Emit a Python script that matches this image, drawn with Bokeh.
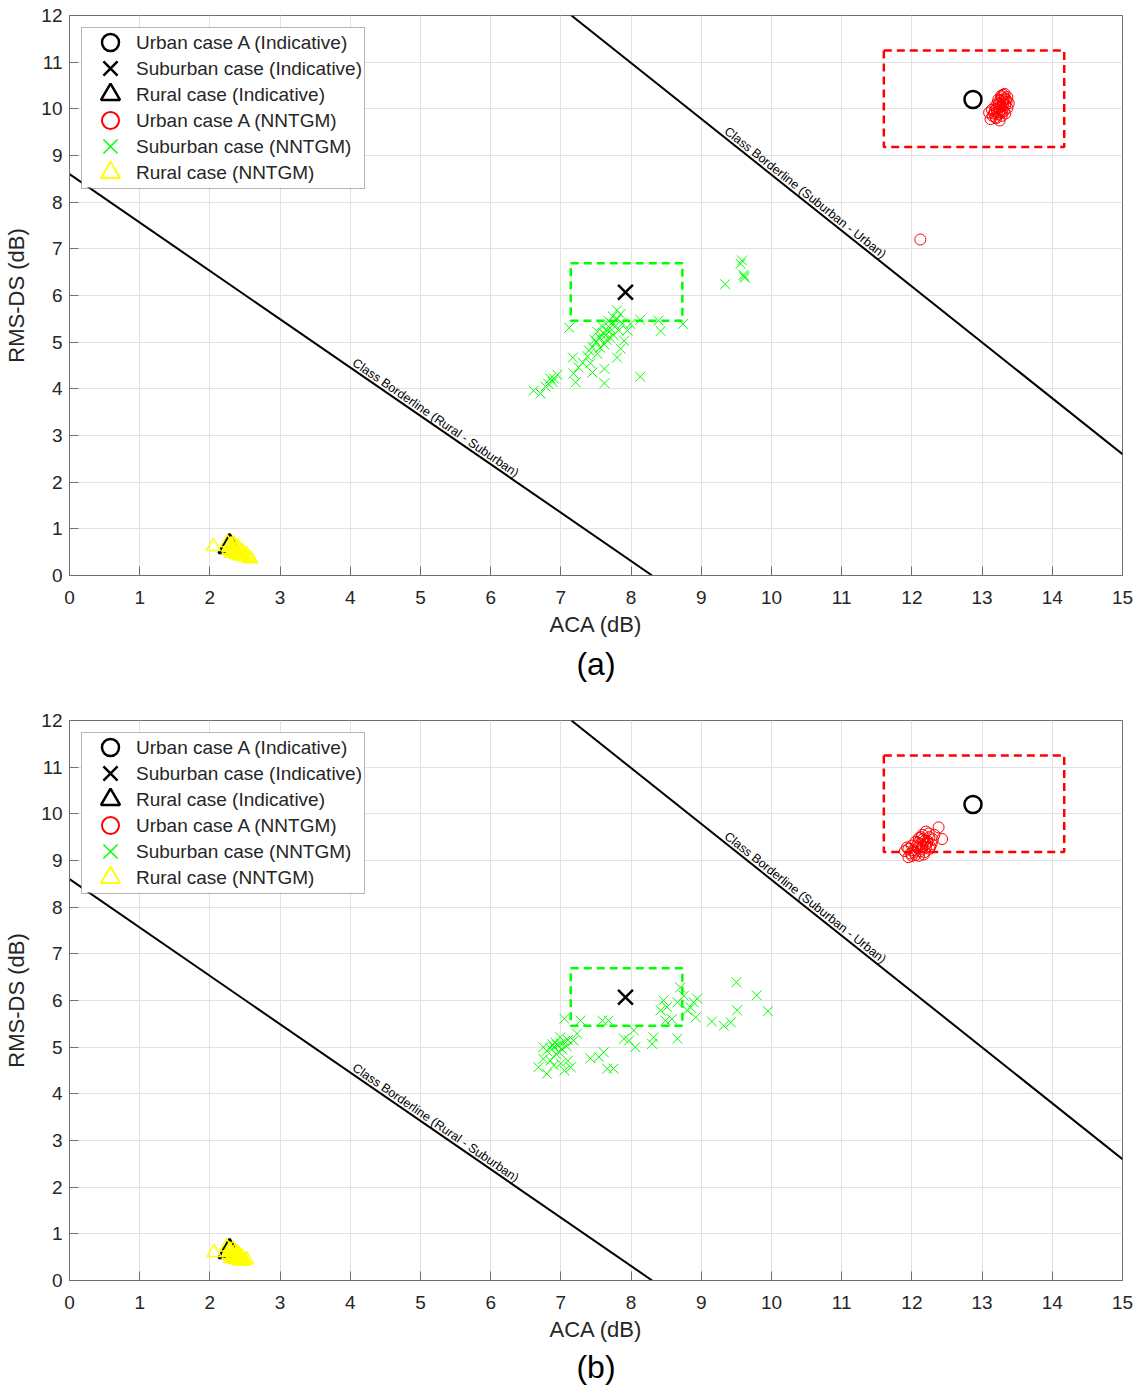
import math
from bokeh.plotting import figure
from bokeh.layouts import column
from bokeh.models import Range1d, FixedTicker, Legend, LegendItem, Title
from bokeh.core.properties import value
from bokeh.embed import file_html
from bokeh.resources import INLINE

FONT = "Liberation Sans"

# ---------------- data ----------------
x_ticks = list(range(0, 16))
y_ticks = list(range(0, 13))

ind_urban_x = [12.87]
ind_urban_y = [10.2]
ind_sub_x = [7.92]
ind_sub_y = [6.07]
ind_rural_x = [2.28]
ind_rural_y = [0.62]

border_rs_x = [0.0, 8.3]
border_rs_y = [8.6, 0.0]
border_su_x = [7.15, 15.0]
border_su_y = [12.0, 2.6]
border_rs_label = "Class Borderline (Rural - Suburban)"
border_su_label = "Class Borderline (Suburban - Urban)"

urban_box = [11.6, 14.17, 9.18, 11.25]   # left, right, bottom, top
sub_box = [7.14, 8.73, 5.46, 6.69]

legend_labels = ["Urban case A (Indicative)", "Suburban case (Indicative)",
                 "Rural case (Indicative)", "Urban case A (NNTGM)",
                 "Suburban case (NNTGM)", "Rural case (NNTGM)"]

# panel (a)
urban_a_x = [13.28, 13.30, 13.32, 13.26, 13.35, 13.22, 13.30, 13.27, 13.33, 13.24,
             13.20, 13.29, 13.36, 13.18, 13.25, 13.31, 13.22, 13.15, 13.28, 13.20,
             13.12, 13.25, 13.34, 13.38, 13.30, 13.23, 13.27, 13.32, 13.19, 13.26,
             13.17, 13.10, 13.21, 13.29, 13.36, 13.24, 13.14, 13.33, 13.28, 13.19, 12.12]
urban_a_y = [10.25, 10.30, 10.22, 10.18, 10.15, 10.12, 10.10, 10.05, 10.08, 10.02,
             10.00, 9.98, 10.02, 9.95, 9.92, 9.95, 9.88, 9.85, 9.85, 9.80,
             9.78, 9.75, 10.20, 10.12, 10.18, 10.20, 10.28, 10.32, 10.06, 9.97,
             9.90, 9.92, 9.93, 10.14, 10.25, 10.10, 9.98, 9.90, 9.92, 9.82, 7.20]

sub_a_x = [9.61, 9.58, 9.56, 9.62, 9.60, 9.34,
           8.13, 7.62, 7.62, 8.74, 8.42, 8.39, 8.13, 7.12,
           7.66, 7.60, 7.70, 7.55, 7.72, 7.65, 7.75, 7.58, 7.68, 7.80,
           7.78, 7.50, 7.45, 7.62, 7.70, 7.82, 7.85, 7.80, 7.74, 7.88,
           7.52, 7.64, 7.56, 7.48, 7.40, 7.52, 7.80, 7.85, 7.90, 7.95,
           7.99, 7.38, 7.31, 7.25, 7.17, 7.18, 7.21, 7.42, 7.45,
           6.85, 6.61, 6.71, 6.82, 6.90, 6.78, 6.88, 6.95]
sub_a_y = [6.41, 6.75, 6.68, 6.38, 6.44, 6.24,
           4.26, 4.12, 4.43, 5.39, 5.24, 5.46, 5.48, 5.31,
           5.25, 5.20, 5.30, 5.10, 5.40, 5.05, 5.15, 5.35, 5.45, 5.50,
           5.35, 5.00, 4.90, 4.95, 5.10, 5.25, 5.60, 5.68, 5.55, 5.40,
           5.22, 5.15, 4.88, 5.05, 4.82, 4.75, 4.67, 4.86, 5.03, 5.25,
           5.39, 4.70, 4.56, 4.46, 4.67, 4.33, 4.14, 4.55, 4.35,
           4.22, 3.96, 3.90, 4.11, 4.22, 4.05, 4.15, 4.30]

rural_a_x = [2.05, 2.25, 2.30, 2.28, 2.33, 2.38, 2.35, 2.40, 2.42, 2.45, 2.32, 2.27,
             2.37, 2.48, 2.50, 2.55, 2.43, 2.30, 2.36, 2.52, 2.40, 2.34, 2.46, 2.58, 2.29]
rural_a_y = [0.62, 0.70, 0.66, 0.60, 0.58, 0.55, 0.62, 0.50, 0.56, 0.48, 0.52, 0.55,
             0.45, 0.44, 0.40, 0.38, 0.42, 0.48, 0.50, 0.45, 0.60, 0.68, 0.52, 0.36, 0.63]

# panel (b)
urban_b_x = [12.38, 12.43, 12.20, 12.15, 12.25, 12.30, 12.10, 12.18, 12.22, 12.05,
             12.12, 12.28, 12.00, 12.15, 12.20, 12.08, 11.95, 12.25, 12.02, 12.12,
             11.98, 12.18, 11.90, 12.05, 12.10, 11.95, 12.22, 12.32, 12.16, 12.06,
             12.26, 12.14, 12.03, 12.20, 12.09, 11.93, 12.13, 12.24, 12.00, 12.17]
urban_b_y = [9.71, 9.46, 9.62, 9.55, 9.50, 9.45, 9.48, 9.42, 9.38, 9.40,
             9.35, 9.35, 9.32, 9.30, 9.28, 9.27, 9.25, 9.25, 9.22, 9.20,
             9.15, 9.18, 9.20, 9.12, 9.10, 9.07, 9.42, 9.55, 9.46, 9.30,
             9.30, 9.25, 9.18, 9.35, 9.38, 9.28, 9.50, 9.58, 9.10, 9.13]

sub_b_x = [9.50, 9.79, 9.95, 9.51, 9.42, 9.32, 9.15, 8.94, 8.89, 8.92, 8.85, 8.70,
           8.75, 8.80, 8.66, 8.51, 8.46, 8.58, 8.42, 8.49, 8.66, 8.32, 8.30, 8.04,
           7.97, 8.06, 7.90, 7.68, 7.59, 7.54, 7.61, 7.42, 7.75, 7.66, 7.28, 7.05,
           7.10, 7.14, 7.18, 7.23, 6.99,
           6.95, 6.90, 7.00, 6.85, 7.05, 6.92, 7.02, 6.80, 6.97, 7.08, 6.88, 6.75,
           7.10, 6.93,
           6.68, 6.80, 6.85, 6.90, 7.00, 7.05, 6.75]
sub_b_y = [6.39, 6.11, 5.77, 5.79, 5.53, 5.46, 5.55, 6.04, 5.96, 5.64, 5.85, 6.28,
           6.10, 5.79, 5.96, 5.86, 6.00, 5.60, 5.79, 5.57, 5.18, 5.21, 5.07, 5.36,
           5.14, 5.00, 5.18, 5.57, 5.57, 4.79, 4.89, 4.76, 4.54, 4.54, 5.57, 5.61,
           4.71, 4.57, 5.14, 5.29, 5.21,
           5.04, 5.00, 5.08, 4.98, 5.12, 5.10, 4.95, 4.92, 4.90, 5.02, 5.06, 5.00,
           5.15, 4.85,
           4.57, 4.43, 4.71, 4.61, 4.65, 4.50, 4.75]

rural_b_x = [2.06, 2.24, 2.28, 2.30, 2.33, 2.36, 2.38, 2.41, 2.44, 2.32, 2.27, 2.36,
             2.47, 2.50, 2.42, 2.30, 2.35, 2.52, 2.39, 2.33, 2.45, 2.29, 2.40]
rural_b_y = [0.60, 0.72, 0.66, 0.60, 0.56, 0.62, 0.52, 0.56, 0.48, 0.50, 0.55, 0.45,
             0.44, 0.42, 0.42, 0.47, 0.52, 0.45, 0.60, 0.68, 0.52, 0.63, 0.48]

# ---------------- drawing ----------------
FRAME_W, FRAME_H = 1053, 560
X_MIN, X_MAX, Y_MIN, Y_MAX = 0, 15, 0, 12
SX = FRAME_W / (X_MAX - X_MIN)
SY = FRAME_H / (Y_MAX - Y_MIN)
AXIS_COLOR = "#6e6e6e"
TEXT_COLOR = "#262626"
RED, GREEN, YELLOW = "#ff0000", "#00ff00", "#ffff00"

# legend layout (screen pixels, relative to the frame's top-left corner)
LEG_MARGIN = 12
LEG_BOX_W = 283
LEG_MARK_DX = 41
LEG_ROW0_DY = 27
LEG_PITCH = 26
LEG_PAD = 2


def border_line(p, xs, ys, label, label_x):
    p.line(xs, ys, line_color="black", line_width=2)
    ang = math.atan2((ys[1] - ys[0]) * SY, (xs[1] - xs[0]) * SX)
    t = (label_x - xs[0]) / (xs[1] - xs[0])
    label_y = ys[0] + t * (ys[1] - ys[0])
    p.text(x=[label_x], y=[label_y], text=[label], angle=ang,
           text_align="center", text_baseline="bottom",
           text_font=value(FONT), text_font_size="12.5px", text_color="black")


def make_panel(caption, ux, uy, sx_, sy_, rx, ry, min_bottom, cap_standoff):
    p = figure(frame_width=FRAME_W, frame_height=FRAME_H,
               x_range=Range1d(X_MIN, X_MAX), y_range=Range1d(Y_MIN, Y_MAX),
               output_backend="svg", toolbar_location=None, title=None,
               min_border_left=69, min_border_right=18, min_border_top=15,
               min_border_bottom=min_bottom,
               background_fill_color="white", border_fill_color="white")
    p.xaxis.ticker = FixedTicker(ticks=x_ticks)
    p.yaxis.ticker = FixedTicker(ticks=y_ticks)
    p.xgrid.grid_line_color = "#e2e2e2"
    p.ygrid.grid_line_color = "#e2e2e2"
    p.axis.axis_line_color = AXIS_COLOR
    p.axis.major_tick_line_color = AXIS_COLOR
    p.axis.major_tick_in = 9
    p.axis.major_tick_out = 0
    p.axis.minor_tick_in = 0
    p.axis.minor_tick_out = 0
    p.axis.major_label_text_font = FONT
    p.axis.major_label_text_font_size = "19px"
    p.axis.major_label_text_color = TEXT_COLOR
    p.axis.axis_label_text_font = FONT
    p.axis.axis_label_text_font_size = "22px"
    p.axis.axis_label_text_font_style = "normal"
    p.axis.axis_label_text_color = TEXT_COLOR
    p.xaxis.major_label_standoff = 15
    p.yaxis.major_label_standoff = 7
    p.xaxis.axis_label_standoff = 5
    p.yaxis.axis_label_standoff = 9
    p.xaxis.axis_label = "ACA (dB)"
    p.yaxis.axis_label = "RMS-DS (dB)"
    p.outline_line_color = AXIS_COLOR
    p.outline_line_alpha = 1

    border_line(p, border_rs_x, border_rs_y, border_rs_label, 5.16)
    border_line(p, border_su_x, border_su_y, border_su_label, 10.42)

    # indicative markers
    p.scatter(ind_urban_x, ind_urban_y, marker="circle", size=17, line_color="black",
              fill_color=None, line_width=2.5)
    p.scatter(ind_sub_x, ind_sub_y, marker="x", size=21, line_color="black", line_width=2.5)
    p.scatter(ind_rural_x, ind_rural_y, marker="triangle", size=22, line_color="black",
              fill_color=None, line_width=2.5)

    # NNTGM markers
    p.scatter(ux, uy, marker="circle", size=11, line_color=RED, fill_color=None, line_width=1)
    p.scatter(sx_, sy_, marker="x", size=14, line_color=GREEN, line_width=1)
    p.scatter(rx, ry, marker="triangle", size=14, line_color=YELLOW, fill_color=None,
              line_width=1.5)

    # dashed boxes
    p.quad(left=[urban_box[0]], right=[urban_box[1]], bottom=[urban_box[2]], top=[urban_box[3]],
           fill_color=None, line_color=RED, line_width=2.5, line_dash="8 5")
    p.quad(left=[sub_box[0]], right=[sub_box[1]], bottom=[sub_box[2]], top=[sub_box[3]],
           fill_color=None, line_color=GREEN, line_width=2.5, line_dash="8 5")

    # legend background (white panel) drawn as a glyph so symbols can sit on top
    n_rows = len(legend_labels)
    box_h = 2 * LEG_PAD + n_rows * LEG_PITCH
    p.quad(left=[X_MIN + LEG_MARGIN / SX], right=[X_MIN + (LEG_MARGIN + LEG_BOX_W) / SX],
           top=[Y_MAX - LEG_MARGIN / SY], bottom=[Y_MAX - (LEG_MARGIN + box_h) / SY],
           fill_color="white", line_color=None)

    styles = [("circle", "black", 17, 2.5), ("x", "black", 20, 2.5),
              ("triangle", "black", 19, 2.5), ("circle", RED, 17, 2),
              ("x", GREEN, 20, 1.5), ("triangle", YELLOW, 19, 2)]
    nan = [float("nan")]
    items = []
    mark_x = X_MIN + LEG_MARK_DX / SX
    for k, ((mk, col, sz, lw), lab) in enumerate(zip(styles, legend_labels)):
        r = p.scatter(nan, nan, marker=mk, size=10, line_color=col, fill_color=None,
                      line_alpha=0)
        items.append(LegendItem(label=lab, renderers=[r]))
        mark_y = Y_MAX - (LEG_ROW0_DY + k * LEG_PITCH) / SY
        p.scatter([mark_x], [mark_y], marker=mk, size=sz, line_color=col,
                  fill_color=None, line_width=lw)
    leg = Legend(items=items, location="top_left", margin=LEG_MARGIN, padding=LEG_PAD,
                 spacing=0, glyph_width=52, glyph_height=LEG_PITCH, label_height=LEG_PITCH,
                 label_standoff=0,
                 label_text_font=FONT, label_text_font_size="19px",
                 label_text_color=TEXT_COLOR,
                 border_line_color=AXIS_COLOR, border_line_width=1,
                 background_fill_alpha=0)
    p.add_layout(leg)

    p.add_layout(Title(text=caption, align="center", text_font=FONT,
                       text_font_size="32px", text_font_style="normal",
                       text_color="black", standoff=cap_standoff), "below")
    return p


pa = make_panel("(a)", urban_a_x, urban_a_y, sub_a_x, sub_a_y, rural_a_x, rural_a_y, 130, 8)
pb = make_panel("(b)", urban_b_x, urban_b_y, sub_b_x, sub_b_y, rural_b_x, rural_b_y, 100, 4)

layout = column(pa, pb, spacing=0)
open("out.html", "w").write(file_html(layout, INLINE))
